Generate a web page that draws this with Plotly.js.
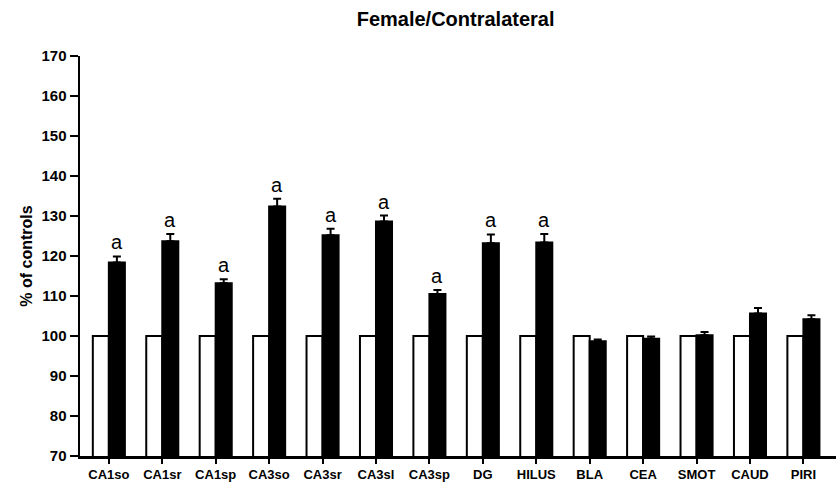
<!DOCTYPE html>
<html>
<head>
<meta charset="utf-8">
<script src="https://cdn.plot.ly/plotly-3.0.1.min.js"></script>
<style>html,body{margin:0;padding:0;background:#fff;}#chart{width:836px;height:482px;}</style>
</head>
<body>
<div id="chart"></div>
<script>
var categories = ['CA1so','CA1sr','CA1sp','CA3so','CA3sr','CA3sl','CA3sp','DG','HILUS','BLA','CEA','SMOT','CAUD','PIRI'];
var controlValues = [100,100,100,100,100,100,100,100,100,100,100,100,100,100];
var treatedValues = [118.4,123.7,113.2,132.4,125.2,128.6,110.5,123.2,123.4,98.7,99.3,100.2,105.6,104.2];
var treatedErrors = [1.5,1.8,1.0,1.9,1.6,1.5,1.0,2.2,2.1,0.4,0.6,0.8,1.4,1.0];
var sigLabels = ['a','a','a','a','a','a','a','a','a','','','','',''];
var yTicks = [70,80,90,100,110,120,130,140,150,160,170];

var FONT = 'Arial, "Liberation Sans", Helvetica, sans-serif';

var xIdx = categories.map(function(c,i){return i;});

var traces = [
  {
    type:'bar', x:xIdx, y:controlValues, name:'Control',
    marker:{color:'#ffffff', line:{color:'#000000', width:2}},
    hoverinfo:'skip'
  },
  {
    type:'bar', x:xIdx, y:treatedValues, name:'Treated',
    marker:{color:'#000000', line:{color:'#000000', width:2}},
    error_y:{type:'data', array:treatedErrors, arrayminus:treatedErrors.map(function(){return 0;}), symmetric:false, visible:true, color:'#000000', thickness:2, width:4},
    hoverinfo:'skip'
  }
];

var annotations = [];
sigLabels.forEach(function(t,i){
  if(!t) return;
  annotations.push({
    x: i + 0.15, y: treatedValues[i] + treatedErrors[i], xref:'x', yref:'y',
    text:t, showarrow:false, yanchor:'bottom', xanchor:'center', yshift:1,
    font:{family:FONT, size:20, color:'#000'}
  });
});

var layout = {
  width:836, height:482,
  margin:{l:80, r:0, t:56, b:26},
  paper_bgcolor:'#fff', plot_bgcolor:'#fff',
  showlegend:false,
  barmode:'group', bargap:0.4, bargroupgap:0,
  title:{text:'<b>Female/Contralateral</b>', font:{family:FONT, size:20, color:'#000'}, x:0.545, xanchor:'center', y:0.96, yanchor:'middle'},
  xaxis:{
    type:'linear', range:[-0.54, 13.61],
    tickvals:xIdx, ticktext:categories.map(function(c){return '<b>'+c+'</b>';}),
    ticks:'outside', ticklen:5, tickwidth:2, tickcolor:'#000',
    showline:true, linecolor:'#000', linewidth:2.5,
    showgrid:false, zeroline:false,
    tickfont:{family:FONT, size:13, color:'#000'}
  },
  yaxis:{
    range:[70,170], tickvals:yTicks, ticktext:yTicks.map(function(v){return '<b>'+v+'</b>';}),
    ticks:'outside', ticklen:8, tickwidth:2, tickcolor:'#000',
    showline:true, linecolor:'#000', linewidth:2.5,
    showgrid:false, zeroline:false,
    tickfont:{family:FONT, size:15, color:'#000'},
    title:{text:'<b>% of controls</b>', font:{family:FONT, size:16, color:'#000'}, standoff:5}
  },
  annotations:annotations
};

Plotly.newPlot('chart', traces, layout, {staticPlot:true, displayModeBar:false});
</script>
</body>
</html>
